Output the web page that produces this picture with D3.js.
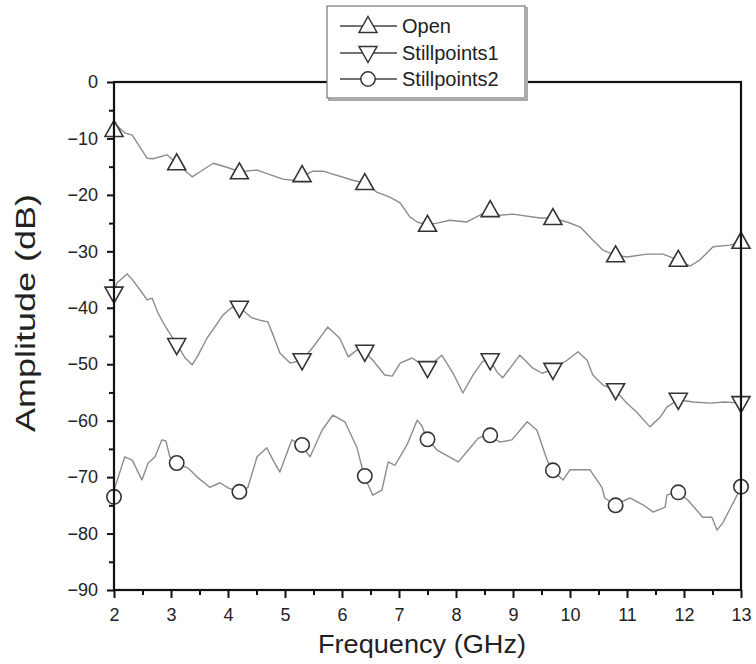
<!DOCTYPE html>
<html>
<head>
<meta charset="utf-8">
<script src="https://cdn.jsdelivr.net/npm/d3@7/dist/d3.min.js"></script>
<style>
  html, body { margin: 0; padding: 0; background: #fff; }
  svg { display: block; font-family: "Liberation Sans", Arial, sans-serif; }
</style>
</head>
<body>
<svg id="chart" width="756" height="664"></svg>
<script>
// ---------------- DATA ----------------
const seriesNames = ["Open", "Stillpoints1", "Stillpoints2"];
const seriesSymbols = ["triangle-up", "triangle-down", "circle"];

// Open: [frequency GHz, amplitude dB]
const openFreq = [2.00,2.19,2.32,2.58,2.68,2.93,3.10,3.37,3.51,3.74,3.98,4.21,4.51,4.96,5.14,5.30,5.49,5.67,6.19,6.40,6.61,6.84,7.02,7.19,7.32,7.49,7.67,7.89,8.19,8.42,8.58,8.77,9.00,9.47,9.68,9.95,10.18,10.40,10.58,10.79,11.00,11.35,11.63,11.89,12.11,12.28,12.51,12.81,13.00];
const openAmp  = [-7.3,-9.0,-9.4,-13.5,-13.6,-12.9,-14.4,-16.8,-15.9,-14.4,-15.1,-15.9,-15.6,-17.2,-17.4,-16.7,-15.8,-15.8,-17.4,-17.9,-19.5,-20.4,-21.4,-23.9,-24.8,-25.3,-25.0,-24.5,-24.8,-23.6,-22.7,-23.6,-23.4,-24.1,-24.1,-24.8,-25.7,-28.0,-29.8,-30.7,-31.0,-30.5,-30.5,-31.5,-32.6,-31.5,-29.2,-28.9,-28.3];

const still1Freq = [2.00,2.05,2.23,2.33,2.46,2.58,2.67,2.77,2.89,3.11,3.25,3.37,3.46,3.63,3.77,3.91,4.07,4.21,4.42,4.56,4.70,4.79,4.91,5.09,5.30,5.49,5.65,5.75,5.96,6.11,6.26,6.40,6.54,6.75,6.88,7.02,7.23,7.49,7.75,7.95,8.12,8.30,8.46,8.58,8.72,8.82,9.12,9.35,9.51,9.68,9.95,10.14,10.30,10.40,10.58,10.79,11.00,11.18,11.40,11.58,11.70,11.89,12.16,12.46,12.72,13.00];
const still1Amp  = [-37.4,-35.6,-34.0,-35.1,-36.9,-38.6,-38.3,-40.9,-43.1,-46.6,-48.9,-50.1,-48.7,-45.4,-43.4,-41.3,-39.9,-40.0,-41.8,-42.2,-42.5,-44.8,-48.0,-49.8,-49.3,-47.0,-44.8,-43.4,-45.4,-48.7,-47.5,-47.8,-49.3,-51.9,-52.1,-49.8,-48.9,-50.7,-48.4,-51.6,-55.1,-51.9,-49.6,-48.9,-51.4,-52.4,-48.4,-50.7,-51.6,-51.0,-49.3,-47.8,-49.3,-51.9,-53.7,-54.6,-56.9,-58.6,-61.1,-59.4,-57.6,-56.3,-56.7,-56.9,-56.7,-56.9];

const still2Freq = [2.00,2.19,2.32,2.49,2.60,2.72,2.84,2.91,2.98,3.09,3.30,3.46,3.68,3.86,4.00,4.18,4.35,4.51,4.68,4.79,4.91,5.12,5.28,5.44,5.65,5.84,6.05,6.26,6.39,6.54,6.70,6.81,6.93,7.14,7.32,7.40,7.49,7.67,8.04,8.25,8.39,8.56,8.77,8.98,9.25,9.42,9.60,9.68,9.88,10.00,10.35,10.56,10.61,10.79,11.05,11.28,11.46,11.67,11.70,11.89,12.07,12.33,12.49,12.58,12.68,12.86,13.00];
const still2Amp  = [-72.3,-66.4,-67.0,-70.5,-67.5,-66.4,-63.4,-63.6,-66.4,-67.5,-68.4,-70.0,-71.8,-71.0,-71.9,-72.6,-71.8,-66.4,-64.8,-67.0,-69.1,-63.4,-64.3,-66.4,-61.7,-59.0,-60.2,-64.7,-69.8,-73.2,-72.3,-67.3,-67.9,-64.3,-59.9,-60.9,-63.3,-65.2,-67.3,-64.8,-63.1,-62.5,-63.8,-63.4,-60.2,-61.7,-67.0,-68.7,-70.5,-68.7,-68.7,-71.8,-73.7,-74.9,-73.7,-74.9,-76.2,-75.3,-73.2,-72.6,-74.1,-77.1,-77.1,-79.4,-78.1,-74.6,-71.8];

// symbol positions (every 1.1 GHz) and the values read at each symbol
const markerFreq = [2.0,3.1,4.2,5.3,6.4,7.5,8.6,9.7,10.8,11.9,13.0];
const openMarkers   = [-8.5,-14.4,-16.0,-16.5,-17.9,-25.3,-22.7,-24.1,-30.7,-31.5,-28.3];
const still1Markers = [-37.5,-46.6,-40.0,-49.3,-47.8,-50.7,-49.3,-51.0,-54.6,-56.3,-56.9];
const still2Markers = [-73.5,-67.5,-72.6,-64.3,-69.8,-63.3,-62.6,-68.8,-75.0,-72.7,-71.7];

const xTicks = [2,3,4,5,6,7,8,9,10,11,12,13];
const xMinorTicks = [2.5,3.5,4.5,5.5,6.5,7.5,8.5,9.5,10.5,11.5,12.5];
const yTicks = [0,-10,-20,-30,-40,-50,-60,-70,-80,-90];
const yMinorTicks = [-5,-15,-25,-35,-45,-55,-65,-75,-85];

const xTitle = "Frequency (GHz)";
const yTitle = "Amplitude (dB)";

// ---------------- CHART ----------------
const svg = d3.select("#chart");
const L = 114, R = 741, T = 82, B = 590;
const x = d3.scaleLinear().domain([2, 13]).range([L, R]);
const y = d3.scaleLinear().domain([-90, 0]).range([B, T]);

const lineColor = "#8c8c8c";
const symColor = "#333";

// axes
const fontTick = 18;
const xAxis = svg.append("g").attr("transform", `translate(0,${B})`)
  .call(d3.axisBottom(x).tickValues(xTicks).tickFormat(d3.format("d")).tickSizeInner(8).tickSizeOuter(0).tickPadding(10));
const xAxisMinor = svg.append("g").attr("transform", `translate(0,${B})`)
  .call(d3.axisBottom(x).tickValues(xMinorTicks).tickFormat("").tickSizeInner(5).tickSizeOuter(0));
const yAxis = svg.append("g").attr("transform", `translate(${L},0)`)
  .call(d3.axisLeft(y).tickValues(yTicks).tickFormat(d3.format("d")).tickSizeInner(7).tickSizeOuter(0).tickPadding(9));
const yAxisMinor = svg.append("g").attr("transform", `translate(${L},0)`)
  .call(d3.axisLeft(y).tickValues(yMinorTicks).tickFormat("").tickSizeInner(5).tickSizeOuter(0));

[xAxis, xAxisMinor, yAxis, yAxisMinor].forEach(g => {
  g.select(".domain").remove();
  g.selectAll(".tick line").attr("stroke", "#111").attr("stroke-width", 2);
  g.selectAll(".tick text").attr("font-size", fontTick).attr("fill", "#222")
    .attr("font-family", "'Liberation Sans', Arial, sans-serif");
});

// series lines
const lineGen = d3.line().x(d => x(d[0])).y(d => y(d[1]));
const series = [
  { f: openFreq, a: openAmp, m: openMarkers, sym: "triangle-up" },
  { f: still1Freq, a: still1Amp, m: still1Markers, sym: "triangle-down" },
  { f: still2Freq, a: still2Amp, m: still2Markers, sym: "circle" }
];

const plot = svg.append("g");
series.forEach(s => {
  const pts = s.f.map((f, i) => [f, s.a[i]]);
  plot.append("path").datum(pts).attr("d", lineGen)
    .attr("fill", "none").attr("stroke", lineColor).attr("stroke-width", 1.4)
    .attr("stroke-linejoin", "round");
});

function symbolPath(sym) {
  if (sym === "triangle-up") return "M0,-9.5L9,6.5L-9,6.5Z";
  if (sym === "triangle-down") return "M0,9.5L9,-6.5L-9,-6.5Z";
  return d3.symbol().type(d3.symbolCircle).size(Math.PI * 7.2 * 7.2)();
}

series.forEach(s => {
  plot.selectAll(null).data(markerFreq.map((f, i) => [f, s.m[i]])).enter()
    .append("path")
    .attr("d", symbolPath(s.sym))
    .attr("transform", d => `translate(${x(d[0])},${y(d[1])})`)
    .attr("fill", "#fff").attr("stroke", symColor).attr("stroke-width", 1.6);
});

// frame
svg.append("rect").attr("x", L).attr("y", T).attr("width", R - L).attr("height", B - T)
  .attr("fill", "none").attr("stroke", "#111").attr("stroke-width", 2.2);

// axis titles
svg.append("text").attr("x", 422).attr("y", 653).attr("text-anchor", "middle")
  .attr("font-size", 25).attr("fill", "#222")
  .attr("textLength", 208).attr("lengthAdjust", "spacingAndGlyphs")
  .text(xTitle);
svg.append("text").attr("transform", "translate(35,313) rotate(-90)").attr("text-anchor", "middle")
  .attr("font-size", 27).attr("fill", "#222")
  .attr("textLength", 238).attr("lengthAdjust", "spacingAndGlyphs")
  .text(yTitle);

// legend
const lg = svg.append("g");
lg.append("rect").attr("x", 329).attr("y", 8).attr("width", 198).attr("height", 92)
  .attr("fill", "#fff").attr("stroke", "#aaa").attr("stroke-width", 2);
lg.append("rect").attr("x", 327).attr("y", 6).attr("width", 198).attr("height", 92)
  .attr("fill", "#fff").attr("stroke", "#777").attr("stroke-width", 1.2);
const rowsY = [26, 53, 79];
seriesNames.forEach((name, i) => {
  const cy = rowsY[i];
  lg.append("line").attr("x1", 340).attr("x2", 397).attr("y1", cy).attr("y2", cy)
    .attr("stroke", "#444").attr("stroke-width", 1.3);
  lg.append("path").attr("d", symbolPath(seriesSymbols[i]))
    .attr("transform", `translate(368,${cy})`)
    .attr("fill", "#fff").attr("stroke", symColor).attr("stroke-width", 1.5);
  lg.append("text").attr("x", 402).attr("y", cy + 7).attr("font-size", 20).attr("fill", "#222")
    .text(name);
});
</script>
</body>
</html>
